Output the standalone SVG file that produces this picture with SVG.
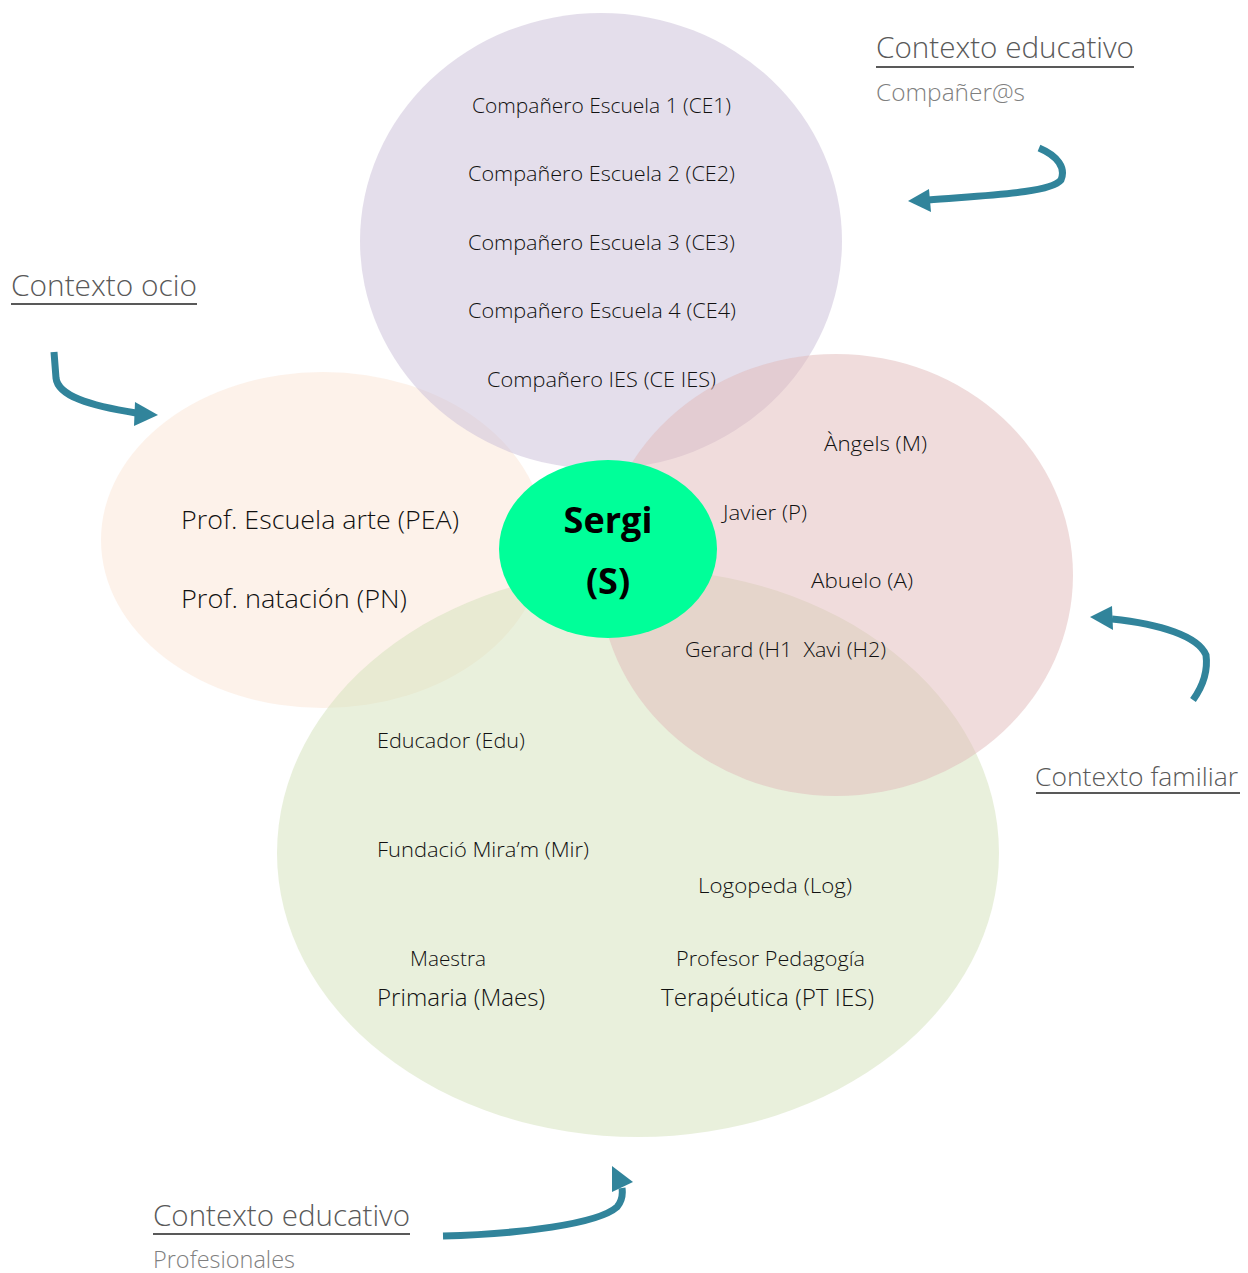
<svg xmlns="http://www.w3.org/2000/svg" width="1248" height="1273" viewBox="0 0 1248 1273">
<style>
.t{font-family:"Open Sans","Noto Sans","Liberation Sans",sans-serif;font-weight:300;font-size:19.5px;fill:#111}
.big{font-size:25.5px}
.mid{font-size:23px}
.title{font-family:"Open Sans","Noto Sans","Liberation Sans",sans-serif;font-weight:300;font-size:28.5px;fill:#595959}
.sub{font-family:"Open Sans","Noto Sans","Liberation Sans",sans-serif;font-weight:300;font-size:23px;fill:#7f7f7f}
.ul{stroke:#595959;stroke-width:2}
.arr{fill:none;stroke:#31849b;stroke-width:7}
.head{fill:#31849b}
.s{font-family:"Open Sans","Noto Sans","Liberation Sans",sans-serif;font-weight:700;font-size:36px;fill:#000}
</style>
<rect width="1248" height="1273" fill="#ffffff"/>
<g id="ocio">
<ellipse cx="323" cy="540" rx="222" ry="168" fill="#fbe5d5" fill-opacity="0.5"/>
<text class="t big" x="181" y="529" textLength="278" lengthAdjust="spacingAndGlyphs">Prof. Escuela arte (PEA)</text>
<text class="t big" x="181" y="608" textLength="226" lengthAdjust="spacingAndGlyphs">Prof. natación (PN)</text>
</g>
<g id="companeros">
<ellipse cx="601" cy="241" rx="241" ry="228" fill="#c9bdd7" fill-opacity="0.5"/>
<text class="t" x="472" y="113" textLength="259" lengthAdjust="spacingAndGlyphs">Compañero Escuela 1 (CE1)</text>
<text class="t" x="468" y="181" textLength="267" lengthAdjust="spacingAndGlyphs">Compañero Escuela 2 (CE2)</text>
<text class="t" x="468" y="250" textLength="267" lengthAdjust="spacingAndGlyphs">Compañero Escuela 3 (CE3)</text>
<text class="t" x="468" y="318" textLength="268" lengthAdjust="spacingAndGlyphs">Compañero Escuela 4 (CE4)</text>
<text class="t" x="487" y="387" textLength="229" lengthAdjust="spacingAndGlyphs">Compañero IES (CE IES)</text>
</g>
<g id="profesionales">
<ellipse cx="638" cy="853" rx="361" ry="284" fill="#d3e1b9" fill-opacity="0.5"/>
<text class="t" x="377" y="748" textLength="148" lengthAdjust="spacingAndGlyphs">Educador (Edu)</text>
<text class="t" x="377" y="857" textLength="212" lengthAdjust="spacingAndGlyphs">Fundació Mira’m (Mir)</text>
<text class="t" x="698" y="893" textLength="154" lengthAdjust="spacingAndGlyphs">Logopeda (Log)</text>
<text class="t" x="410" y="966" textLength="76" lengthAdjust="spacingAndGlyphs">Maestra</text>
<text class="t mid" x="377" y="1006" textLength="168" lengthAdjust="spacingAndGlyphs">Primaria (Maes)</text>
<text class="t" x="676" y="966" textLength="189" lengthAdjust="spacingAndGlyphs">Profesor Pedagogía</text>
<text class="t mid" x="661" y="1006" textLength="213" lengthAdjust="spacingAndGlyphs">Terapéutica (PT IES)</text>
</g>
<g id="familiar">
<ellipse cx="836" cy="575" rx="237" ry="221" fill="#e1b9b9" fill-opacity="0.5"/>
<text class="t" x="824" y="451" textLength="103" lengthAdjust="spacingAndGlyphs">Àngels (M)</text>
<text class="t" x="723" y="520" textLength="84" lengthAdjust="spacingAndGlyphs">Javier (P)</text>
<text class="t" x="811" y="588" textLength="102" lengthAdjust="spacingAndGlyphs">Abuelo (A)</text>
<text class="t" x="685" y="657" textLength="201" lengthAdjust="spacingAndGlyphs" style="white-space:pre">Gerard (H1  Xavi (H2)</text>
</g>
<g id="sergi">
<ellipse cx="608" cy="549" rx="109" ry="89" fill="#00ff99"/>
<text class="s" x="608" y="533" text-anchor="middle">Sergi</text>
<text class="s" x="608" y="594" text-anchor="middle">(S)</text>
</g>
<g id="labels">
<text class="title" x="876" y="58" textLength="258" lengthAdjust="spacingAndGlyphs">Contexto educativo</text>
<line class="ul" x1="876" y1="67" x2="1134" y2="67"/>
<text class="sub" x="876" y="101" textLength="149" lengthAdjust="spacingAndGlyphs">Compañer@s</text>
<text class="title" x="11" y="296" textLength="186" lengthAdjust="spacingAndGlyphs">Contexto ocio</text>
<line class="ul" x1="11" y1="304" x2="197" y2="304"/>
<text class="title" x="1035" y="786" textLength="203" lengthAdjust="spacingAndGlyphs" style="font-size:26px">Contexto familiar</text>
<line class="ul" x1="1036" y1="793" x2="1240" y2="793"/>
<text class="title" x="153" y="1226" textLength="257" lengthAdjust="spacingAndGlyphs">Contexto educativo</text>
<line class="ul" x1="153" y1="1234" x2="410" y2="1234"/>
<text class="sub" x="153" y="1268" textLength="142" lengthAdjust="spacingAndGlyphs">Profesionales</text>
</g>
<g id="connectors">
<path class="arr" d="M1039,148 C1058,156 1066,168 1061,180 C1050,193 990,195 928,200"/>
<polygon class="head" points="908,201 929,189 931,212"/>
<path class="arr" d="M54,352 L56,378 C58,396 90,406 136,413"/>
<polygon class="head" points="158,415 135,402 134,426"/>
<path class="arr" d="M1193,700 C1203,686 1208,670 1206,655 C1198,636 1160,624 1112,619"/>
<polygon class="head" points="1090,617 1112,606 1113,630"/>
<path class="arr" d="M443,1236 C520,1234 598,1224 617,1207 C622,1201 623,1195 622,1188"/>
<polygon class="head" points="612,1166 633,1182 612,1192"/>
</g>
</svg>
